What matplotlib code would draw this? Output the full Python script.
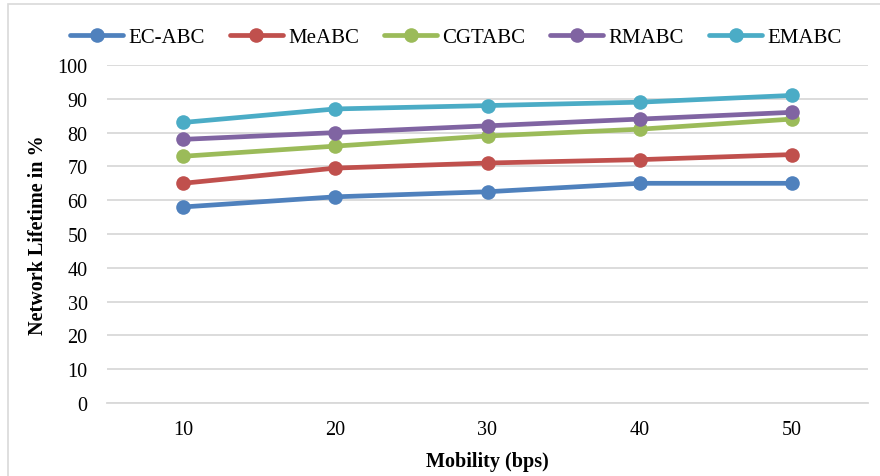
import matplotlib.pyplot as plt
from matplotlib.patches import Rectangle
import numpy as np

mobility = ["10", "20", "30", "40", "50"]
ec_abc = [58, 61, 62.5, 65, 65]
me_abc = [65, 69.5, 71, 72, 73.5]
cgt_abc = [73, 76, 79, 81, 84]
rm_abc = [78, 80, 82, 84, 86]
em_abc = [83, 87, 88, 89, 91]

series = [
    ("EC-ABC", ec_abc, "#4F81BD"),
    ("MeABC", me_abc, "#C0504D"),
    ("CGTABC", cgt_abc, "#9BBB59"),
    ("RMABC", rm_abc, "#8064A2"),
    ("EMABC", em_abc, "#4BACC6"),
]

plt.rcParams['font.family'] = ['Liberation Serif', 'DejaVu Serif']

fig = plt.figure(figsize=(8.8, 4.77), dpi=100)
ax = fig.add_axes([107 / 880, 73 / 477, 761 / 880, 338 / 477])

x = np.arange(1, len(mobility) + 1)
for name, vals, col in series:
    ax.plot(x, vals, color=col, lw=3.4, marker='o', ms=10.5,
            markeredgewidth=0, label=name, solid_capstyle='round')

ax.set_xlim(0.5, 5.5)
ax.set_ylim(0, 100)
ax.set_yticks(np.arange(0, 101, 10))
ax.set_xticks(x)
ax.set_xticklabels(mobility)
ax.grid(axis='y', color='#D9D9D9', lw=1.3)
ax.set_axisbelow(True)
for s in ['top', 'right', 'left']:
    ax.spines[s].set_visible(False)
ax.spines['bottom'].set_color('#D9D9D9')
ax.spines['bottom'].set_linewidth(1.3)
ax.tick_params(length=0, labelsize=14.5, pad=14)
ax.tick_params(axis='x', pad=12)

ax.set_xlabel("Mobility (bps)", fontsize=14.5, fontweight='bold', labelpad=9)
ax.set_ylabel("Network Lifetime in %", fontsize=14.5, fontweight='bold', labelpad=7)

fig.legend(loc='center', bbox_to_anchor=(0.518, 1 - 38 / 477), ncol=5,
           frameon=False, fontsize=15, handlelength=2.55, handletextpad=0.25,
           columnspacing=1.2)

# outer chart frame
fig.patches.append(Rectangle((8 / 880, -0.1), 1.2, 1.1 - 5 / 477,
                             transform=fig.transFigure, fill=False,
                             edgecolor='#D9D9D9', lw=1.2))

fig.savefig("out.png", dpi=100)
